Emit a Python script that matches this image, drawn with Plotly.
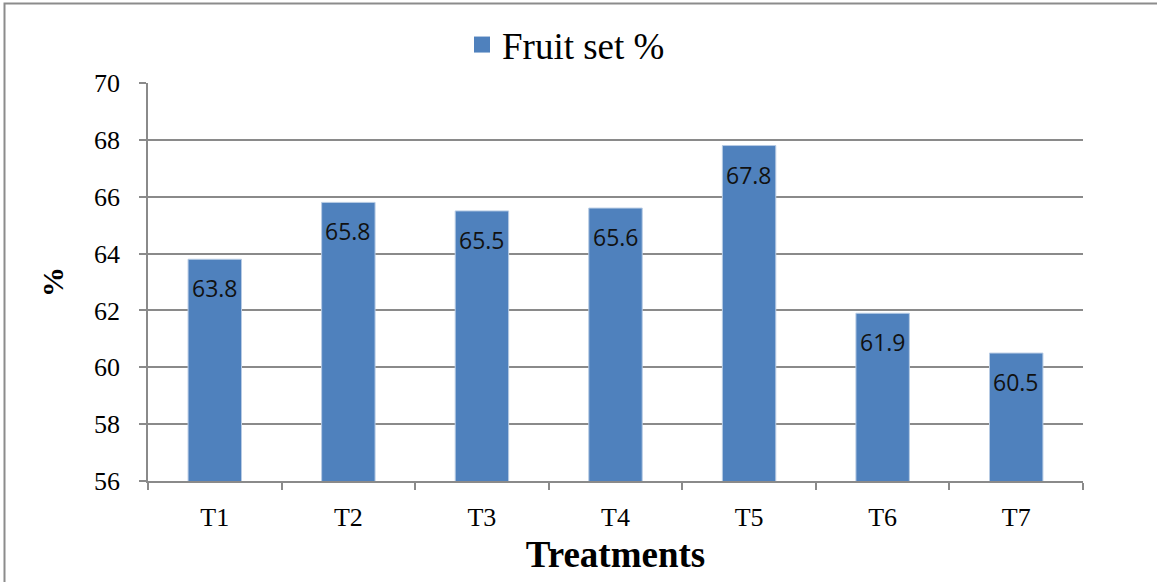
import plotly.graph_objects as go

# Fruit set percentage per treatment
treatments = ["T1", "T2", "T3", "T4", "T5", "T6", "T7"]
fruit_set = [63.8, 65.8, 65.5, 65.6, 67.8, 61.9, 60.5]
y_ticks = [56, 58, 60, 62, 64, 66, 68, 70]

BAR_BLUE = "#4F81BD"
GRID = "#8A8A8A"
SERIF = "Liberation Serif, Times New Roman, serif"

fig = go.Figure()

fig.add_trace(go.Bar(
    x=treatments,
    y=fruit_set,
    marker=dict(color=BAR_BLUE, line=dict(color="#B7CBE4", width=1)),
    showlegend=False,
    hoverinfo="x+y",
))

# legend entry with a larger square swatch
fig.add_trace(go.Scatter(
    x=[None], y=[None],
    mode="markers",
    name="Fruit set %",
    marker=dict(symbol="square", size=16, color=BAR_BLUE, line=dict(width=0)),
    showlegend=True,
))

# value labels just below the top of each bar
for t, v in zip(treatments, fruit_set):
    fig.add_annotation(
        x=t, y=v, text=f"{v:.1f}",
        showarrow=False, yanchor="middle", yshift=-29,
        font=dict(family="Open Sans, sans-serif", size=23, color="#111111"),
    )

# frame along the top and left edges of the chart area
W, H = 1157, 582
L, R, T, B = 148, 74, 83, 101
pw, ph = W - L - R, H - T - B
fig.add_shape(
    type="rect", xref="paper", yref="paper",
    x0=(4.5 - L) / pw, x1=(W + 10 - L) / pw,
    y0=-1.0, y1=(H - B - 3.5) / ph,
    line=dict(color="#8C8C8C", width=2), fillcolor="rgba(0,0,0,0)", layer="above",
)

fig.update_layout(
    width=W, height=H,
    margin=dict(l=L, r=R, t=T, b=B),
    paper_bgcolor="white",
    plot_bgcolor="white",
    bargap=0.6,
    font=dict(family=SERIF, color="#000000"),
    legend=dict(
        orientation="h",
        x=(462 - L) / pw, xanchor="left",
        y=(H - B - 45) / ph, yanchor="middle",
        font=dict(family=SERIF, size=37, color="#000000"),
        itemwidth=30,
        bgcolor="rgba(0,0,0,0)",
    ),
    xaxis=dict(
        type="category",
        showline=True, linecolor=GRID, linewidth=1.5,
        ticks="outside", tickson="boundaries", ticklen=7, tickcolor=GRID, tickwidth=1.5,
        tickfont=dict(family=SERIF, size=26, color="#000000"),
        ticklabelstandoff=12,
        title=dict(text="<b>Treatments</b>", font=dict(family=SERIF, size=37, color="#000000"), standoff=10),
        showgrid=False,
    ),
    yaxis=dict(
        range=[56, 70],
        tickvals=y_ticks,
        showline=True, linecolor=GRID, linewidth=1.5,
        ticks="outside", ticklen=7, tickcolor=GRID, tickwidth=1.5,
        tickfont=dict(family=SERIF, size=26, color="#000000"),
        ticklabelstandoff=14,
        showgrid=True, gridcolor=GRID, gridwidth=1.5,
        zeroline=False,
        title=dict(text="<b>%</b>", font=dict(family=SERIF, size=30, color="#000000"), standoff=22),
    ),
)

fig.write_html("out.html")
